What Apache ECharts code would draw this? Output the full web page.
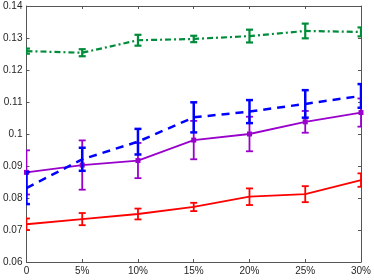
<!DOCTYPE html>
<html>
<head>
<meta charset="utf-8">
<script src="https://cdn.jsdelivr.net/npm/echarts@6/dist/echarts.min.js"></script>
<style>html,body{margin:0;padding:0;background:#fff;}#c{width:374px;height:280px;}</style>
</head>
<body>
<div id="c"></div>
<script>
const categories = ['0', '5%', '10%', '15%', '20%', '25%', '30%'];
const yTicks = [0.06, 0.07, 0.08, 0.09, 0.1, 0.11, 0.12, 0.13, 0.14];
const greenMean = [0.1259, 0.1254, 0.1293, 0.1297, 0.1306, 0.1322, 0.1319];
const greenErr = [0.0008, 0.0011, 0.0017, 0.0010, 0.0020, 0.0023, 0.0014];
const blueMean = [0.0831, 0.0921, 0.0976, 0.1052, 0.1070, 0.1094, 0.1119];
const blueErr = [0.0050, 0.0036, 0.0040, 0.0047, 0.0036, 0.0043, 0.0037];
const purpleMean = [0.0880, 0.0903, 0.0917, 0.0981, 0.1000, 0.1038, 0.1067];
const purpleErr = [0.0069, 0.0077, 0.0055, 0.0060, 0.0054, 0.0034, 0.0044];
const redMean = [0.0718, 0.0734, 0.0750, 0.0772, 0.0804, 0.0812, 0.0856];
const redErr = [0.0018, 0.0019, 0.0017, 0.0013, 0.0026, 0.0025, 0.0021];

const GREEN = '#008c3a', BLUE = '#0000ff', PURPLE = '#9900cc', RED = '#ff0000';

function errData(mean, err) {
  return mean.map((m, i) => [i, m - err[i], m + err[i]]);
}
function errSeries(mean, err, color, width, z) {
  return {
    type: 'custom',
    z: z,
    clip: true,
    data: errData(mean, err),
    renderItem: function (params, api) {
      const x = api.value(0);
      const lo = api.coord([x, api.value(1)]);
      const hi = api.coord([x, api.value(2)]);
      const cw = 3.5;
      const style = { stroke: color, lineWidth: width, fill: null };
      return {
        type: 'group',
        children: [
          { type: 'line', shape: { x1: lo[0], y1: lo[1], x2: hi[0], y2: hi[1] }, style: style },
          { type: 'line', shape: { x1: lo[0] - cw, y1: lo[1], x2: lo[0] + cw, y2: lo[1] }, style: style },
          { type: 'line', shape: { x1: hi[0] - cw, y1: hi[1], x2: hi[0] + cw, y2: hi[1] }, style: style }
        ]
      };
    }
  };
}
function lineSeries(mean, color, width, dash, symbol, size, z) {
  return {
    type: 'line',
    z: z,
    data: mean,
    symbol: symbol,
    symbolSize: size,
    showSymbol: symbol !== 'none',
    itemStyle: { color: color },
    lineStyle: { color: color, width: width, type: dash },
    animation: false
  };
}

const axisColor = '#555';
const labelStyle = { color: '#262626', fontSize: 10, fontFamily: 'Liberation Sans, Arial, sans-serif' };

const chart = echarts.init(document.getElementById('c'), null, { renderer: 'canvas' });
chart.setOption({
  animation: false,
  grid: { left: 24, right: 12, top: 6, bottom: 18, containLabel: false },
  xAxis: [
    {
      type: 'category', data: categories, boundaryGap: false, position: 'bottom',
      axisLine: { show: true, lineStyle: { color: axisColor, width: 1 } },
      axisTick: { show: true, inside: true, length: 3, lineStyle: { color: axisColor } },
      axisLabel: Object.assign({ margin: 4 }, labelStyle),
      splitLine: { show: false }
    },
    {
      type: 'category', data: categories, boundaryGap: false, position: 'top',
      axisLine: { show: true, lineStyle: { color: axisColor, width: 1 } },
      axisTick: { show: true, inside: true, length: 3, lineStyle: { color: axisColor } },
      axisLabel: { show: false },
      splitLine: { show: false }
    }
  ],
  yAxis: [
    {
      type: 'value', min: 0.06, max: 0.14, interval: 0.01, position: 'left',
      axisLine: { show: true, lineStyle: { color: axisColor, width: 1 } },
      axisTick: { show: true, inside: true, length: 3, lineStyle: { color: axisColor } },
      axisLabel: Object.assign({ margin: 4, formatter: function (v) { return String(parseFloat(v.toFixed(2))); } }, labelStyle),
      splitLine: { show: false }
    },
    {
      type: 'value', min: 0.06, max: 0.14, interval: 0.01, position: 'right',
      axisLine: { show: true, lineStyle: { color: axisColor, width: 1 } },
      axisTick: { show: true, inside: true, length: 3, lineStyle: { color: axisColor } },
      axisLabel: { show: false },
      splitLine: { show: false }
    }
  ],
  series: [
    lineSeries(redMean, RED, 1.8, 'solid', 'none', 0, 2),
    errSeries(redMean, redErr, RED, 1.8, 3),
    lineSeries(purpleMean, PURPLE, 1.8, 'solid', 'rect', 5, 4),
    errSeries(purpleMean, purpleErr, PURPLE, 1.8, 5),
    lineSeries(blueMean, BLUE, 2.5, [8, 6], 'none', 0, 6),
    errSeries(blueMean, blueErr, BLUE, 2.5, 7),
    lineSeries(greenMean, GREEN, 2.2, [6, 3, 2, 3], 'none', 0, 8),
    errSeries(greenMean, greenErr, GREEN, 2.2, 9)
  ]
});
</script>
</body>
</html>
